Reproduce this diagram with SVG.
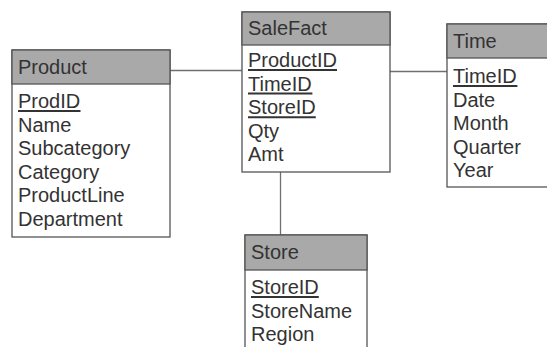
<svg xmlns="http://www.w3.org/2000/svg" width="547" height="347" viewBox="0 0 547 347">
<style>
.box{fill:#ffffff;stroke:#555555;stroke-width:1.3}
.hdr{fill:#a9a9a9;stroke:#555555;stroke-width:1.3}
.t{font-family:"Liberation Sans",Arial,sans-serif;font-size:20px;fill:#333333}
.ul{stroke:#333333;stroke-width:2}
.conn{stroke:#707070;stroke-width:1.3;fill:none}
</style>
<rect width="547" height="347" fill="#ffffff"/>
<g id="connectors">
<line class="conn" x1="170" y1="70.5" x2="242" y2="70.5"/>
<line class="conn" x1="390" y1="71.5" x2="447" y2="71.5"/>
<line class="conn" x1="280.5" y1="172" x2="280.5" y2="235"/>
</g>
<g id="product">
<rect class="box" x="12" y="50" width="158" height="187"/>
<rect class="hdr" x="12" y="50" width="158" height="34"/>
<text class="t" x="18" y="74">Product</text>
<text class="t" x="18" y="108">ProdID</text>
<line class="ul" x1="18" y1="111" x2="80.5" y2="111"/>
<text class="t" x="18" y="131.6">Name</text>
<text class="t" x="18" y="155.2">Subcategory</text>
<text class="t" x="18" y="178.8">Category</text>
<text class="t" x="18" y="202.4">ProductLine</text>
<text class="t" x="18" y="226">Department</text>
</g>
<g id="salefact">
<rect class="box" x="242" y="12" width="148" height="160"/>
<rect class="hdr" x="242" y="12" width="148" height="33"/>
<text class="t" x="248" y="35">SaleFact</text>
<text class="t" x="248" y="67">ProductID</text>
<line class="ul" x1="248" y1="70" x2="337" y2="70"/>
<text class="t" x="248" y="90.6">TimeID</text>
<line class="ul" x1="248" y1="93.6" x2="312.4" y2="93.6"/>
<text class="t" x="248" y="114.2">StoreID</text>
<line class="ul" x1="248" y1="117.2" x2="315.8" y2="117.2"/>
<text class="t" x="248" y="137.8">Qty</text>
<text class="t" x="248" y="161.4">Amt</text>
</g>
<g id="time">
<rect class="box" x="447" y="24" width="120" height="163"/>
<rect class="hdr" x="447" y="24" width="120" height="34"/>
<text class="t" x="453" y="48">Time</text>
<text class="t" x="453" y="83">TimeID</text>
<line class="ul" x1="453" y1="86" x2="517.4" y2="86"/>
<text class="t" x="453" y="106.6">Date</text>
<text class="t" x="453" y="130.2">Month</text>
<text class="t" x="453" y="153.8">Quarter</text>
<text class="t" x="453" y="177.4">Year</text>
</g>
<g id="store">
<rect class="box" x="245" y="235" width="122" height="130"/>
<rect class="hdr" x="245" y="235" width="122" height="35"/>
<text class="t" x="251" y="259">Store</text>
<text class="t" x="251" y="294">StoreID</text>
<line class="ul" x1="251" y1="297" x2="318.8" y2="297"/>
<text class="t" x="251" y="317.6">StoreName</text>
<text class="t" x="251" y="341.2">Region</text>
</g>
</svg>
